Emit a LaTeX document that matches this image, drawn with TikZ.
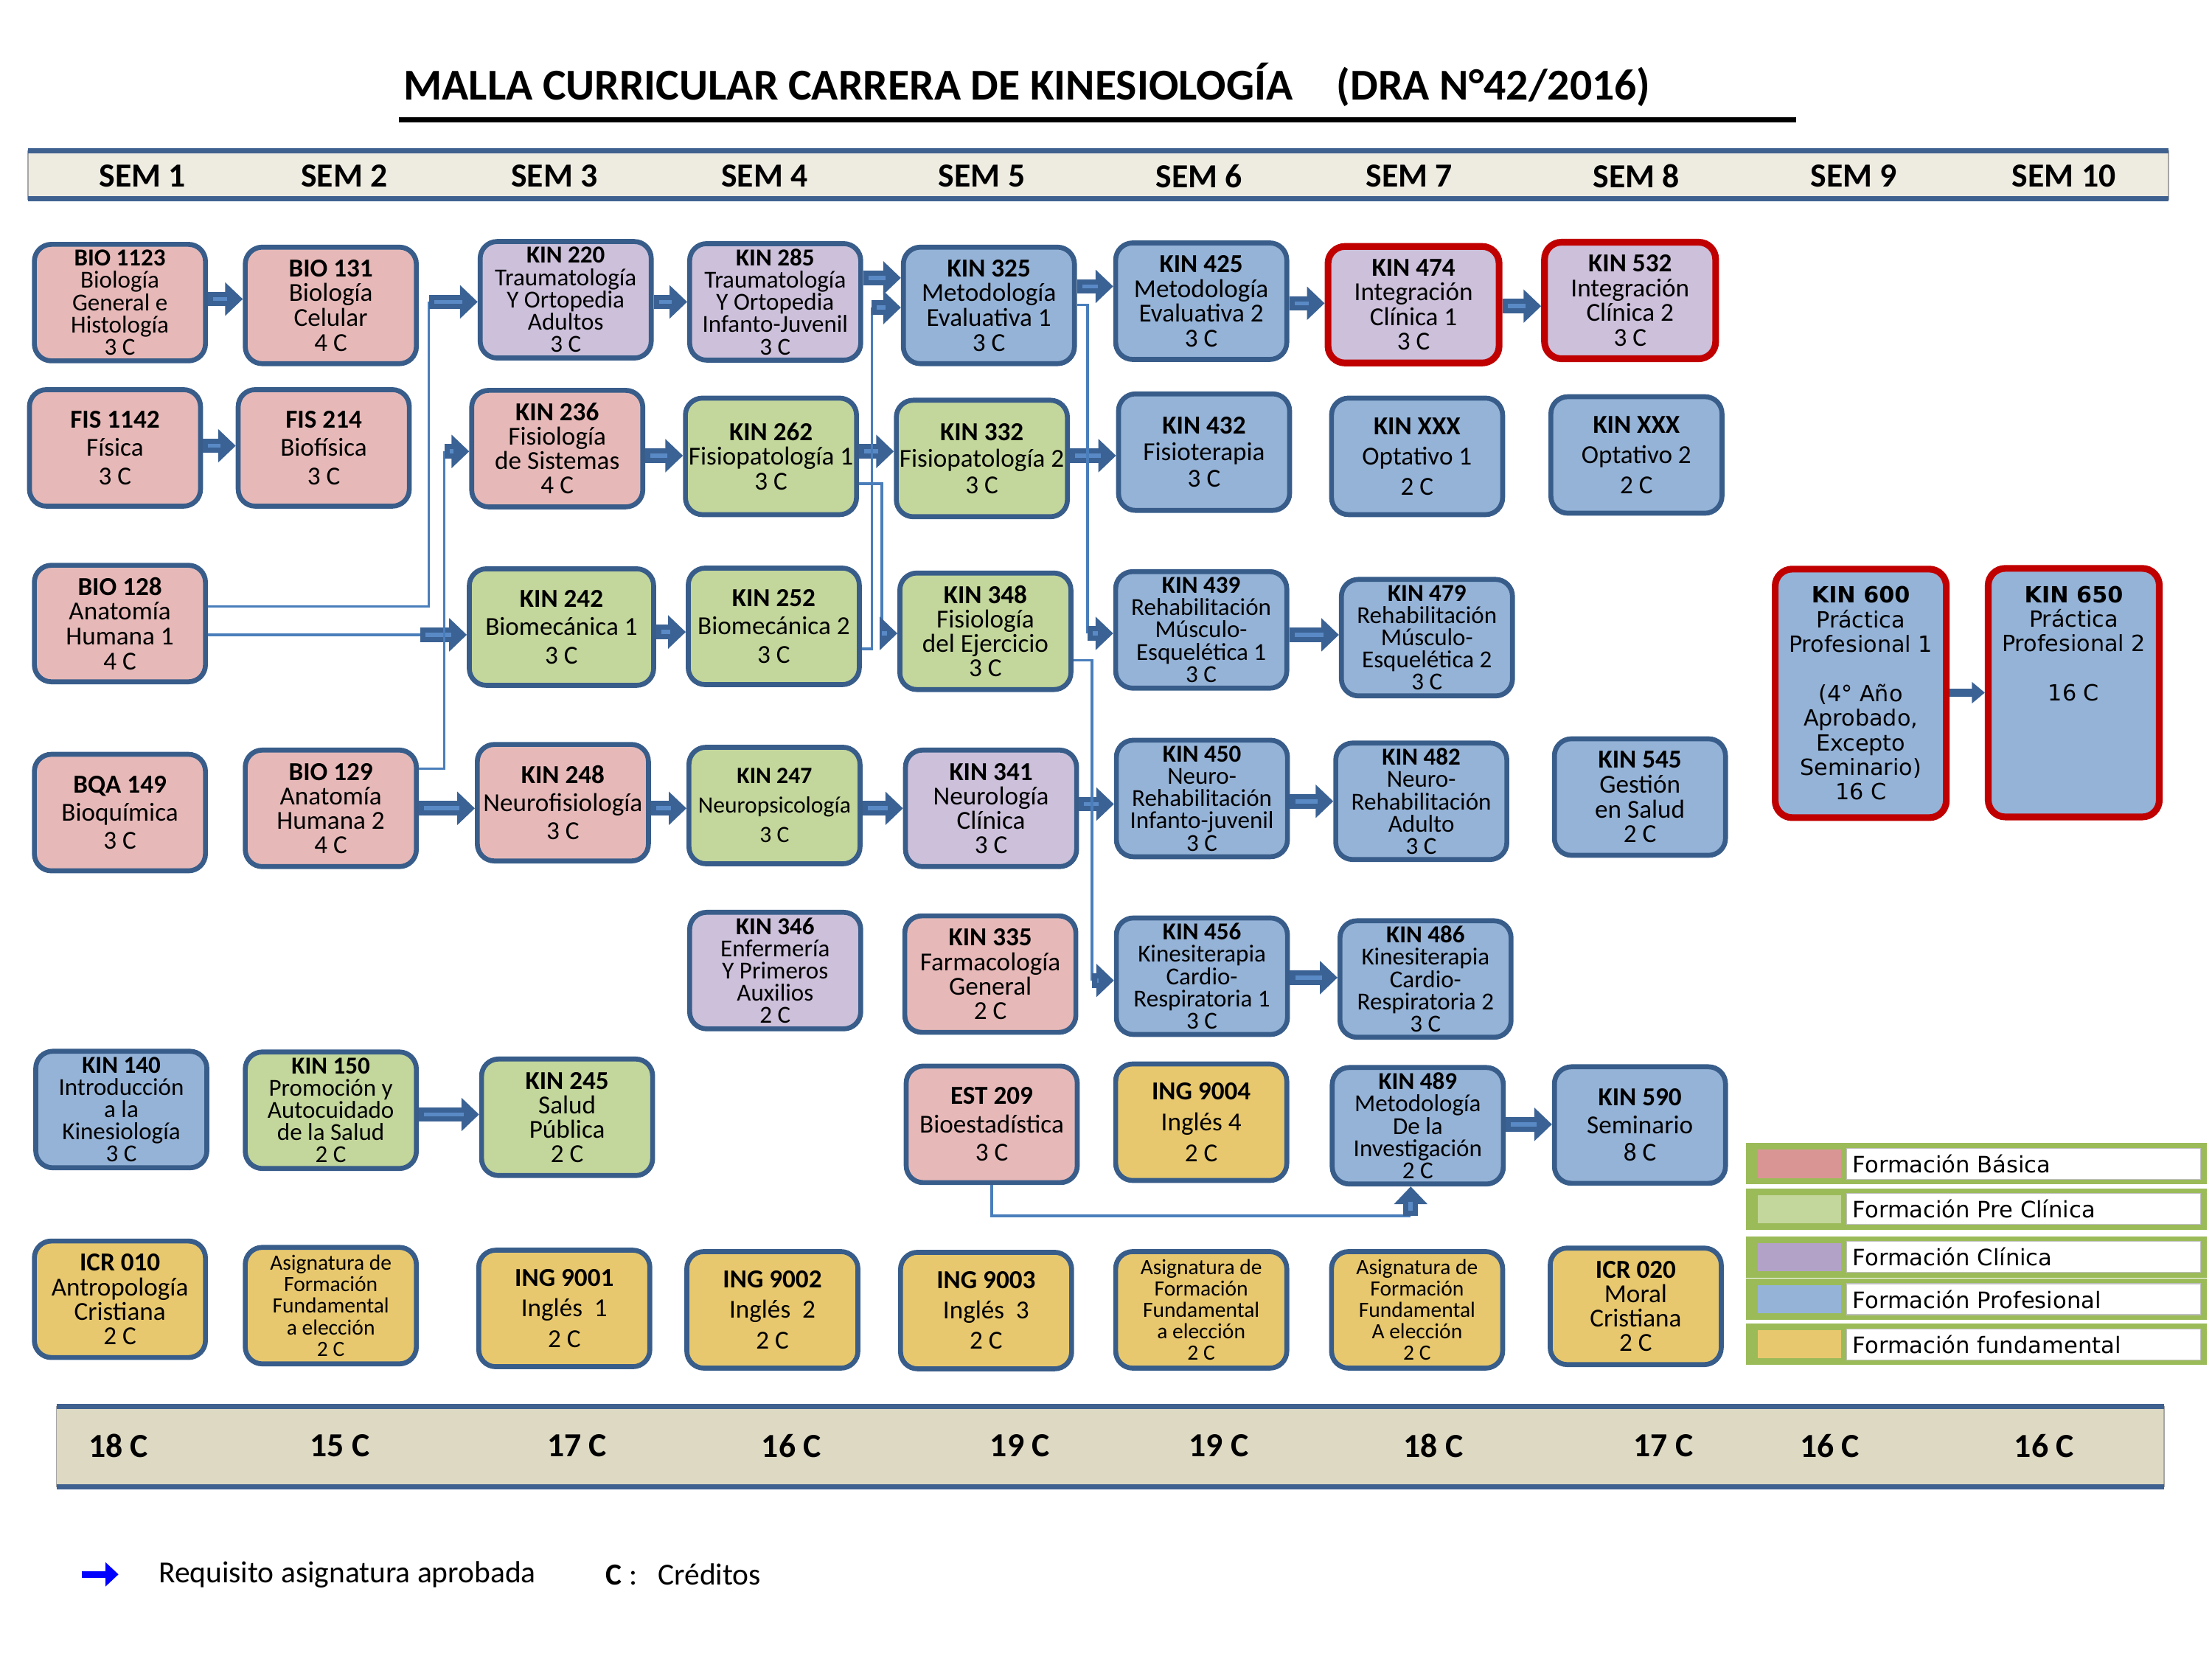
\documentclass[tikz,border=0pt]{standalone}
\usepackage{fontspec}
\setmainfont{Carlito}
\newfontfamily\verdfont{DejaVu Sans}
\usetikzlibrary{arrows.meta}
\lineskiplimit=-20pt
\definecolor{boxline}{HTML}{385D8A}
\definecolor{corered}{HTML}{C00000}
\definecolor{pinkc}{HTML}{E6B9B8}
\definecolor{greenc}{HTML}{C3D69B}
\definecolor{lilac}{HTML}{CCC0DA}
\definecolor{bluec}{HTML}{95B3D7}
\definecolor{goldc}{HTML}{E8C86E}
\definecolor{arrowdark}{HTML}{3B6294}
\definecolor{arrowlight}{HTML}{5A8AC6}
\definecolor{wireblue}{HTML}{4A7EBB}
\definecolor{barline}{HTML}{3F6190}
\definecolor{semfill}{HTML}{EEECE1}
\definecolor{credfill}{HTML}{DDD9C3}
\definecolor{legborder}{HTML}{9BBB59}
\definecolor{legA}{HTML}{D99594}
\definecolor{legB}{HTML}{C3D69B}
\definecolor{legC}{HTML}{B3A2C7}
\definecolor{legD}{HTML}{95B3D7}
\definecolor{legE}{HTML}{E8C86E}
\tikzset{
  course/.style={draw=boxline, line width=1.9pt, fill=#1, rounded corners=2.3mm,
    minimum width=23.2mm, minimum height=15.8mm, inner sep=0pt, align=center,
    font=\fontsize{10}{9.5}\selectfont},
  lsp/.style={font=\fontsize{10}{#1}\selectfont},
  five/.style={font=\fontsize{9.4}{8.6}\selectfont},
  afe/.style={font=\fontsize{8.4}{8.3}\selectfont},
  core/.style={draw=corered, line width=2.6pt},
  req/.style={draw=arrowdark, line width=5.6pt, -{Triangle[length=6.8pt,width=12.5pt]},
    postaction={draw=arrowlight, line width=1.6pt, -, shorten >=6pt, shorten <=2pt}},
  reqs/.style={draw=arrowdark, line width=3.3pt, -{Triangle[length=5pt,width=8pt]}},
  wire/.style={draw=wireblue, line width=1pt},
  semtxt/.style={font=\bfseries\fontsize{13}{15}\selectfont},
  legrow/.style={fill=legborder, minimum width=62.4mm, minimum height=5.6mm, inner sep=0pt},
  legtext/.style={font=\verdfont\fontsize{8.7}{10}\selectfont, anchor=west, inner sep=0pt},
}
\begin{document}
\begin{tikzpicture}[x=0.1913mm, y=-0.1913mm]
\useasboundingbox (0,0) rectangle (1568,1176);

\node[font=\bfseries\fontsize{17}{20}\selectfont] (title) at (728,60)
  {MALLA CURRICULAR CARRERA DE KINESIOLOGÍA\quad (DRA N°42/2016)};
\draw[line width=1.8pt] (283,85) -- (1273,85);

\filldraw[fill=semfill, draw=black!35, line width=0.5pt] (20,107) rectangle (1537,141);
\draw[barline, line width=2pt] (20,107) -- (1537,107) (20,141) -- (1537,141);
\foreach \x/\s in {101/1, 244/2, 393/3, 542/4, 696/5, 850/6, 999/7, 1160/8, 1314/9, 1463/10}
  \node[semtxt] (sem\s) at (\x,125) {SEM \s};

\filldraw[fill=credfill, draw=black!35, line width=0.5pt] (40,997) rectangle (1534,1054);
\draw[barline, line width=2pt] (40,997) -- (1534,997) (40,1054) -- (1534,1054);
\foreach \x/\c [count=\i] in {84/18, 241/15, 409/17, 561/16, 723/19, 864/19, 1016/18, 1179/17, 1297/16, 1449/16}
  \node[semtxt] (cred\i) at (\x,1025) {\c\ C};

% semestre 1 y 2
\node[course=pinkc, five] (bio1123) at (85,214.5) {\textbf{BIO 1123}\\Biología\\General e\\Histología\\3 C};
\node[course=pinkc, lsp=9.6pt] (bio131) at (234.5,216.5) {\textbf{BIO 131}\\Biología\\Celular\\4 C};
\node[course=pinkc, lsp=10.9pt] (fis1142) at (81.5,317.5) {\textbf{FIS 1142}\\Física\\3 C};
\node[course=pinkc, lsp=10.9pt] (fis214) at (229.5,317.5) {\textbf{FIS 214}\\Biofísica\\3 C};
\node[course=pinkc, lsp=9.6pt] (bio128) at (85,442) {\textbf{BIO 128}\\Anatomía\\Humana 1\\4 C};
\node[course=pinkc, lsp=10.9pt] (bqa149) at (85,576) {\textbf{BQA 149}\\Bioquímica\\3 C};
\node[course=pinkc, lsp=9.4pt] (bio129) at (234.5,573) {\textbf{BIO 129}\\Anatomía\\Humana 2\\4 C};
\node[course=bluec, five] (kin140) at (86,786.5) {\textbf{KIN 140}\\Introducción\\a la\\Kinesiología\\3 C};
\node[course=greenc, five] (kin150) at (234.5,787) {\textbf{KIN 150}\\Promoción y\\Autocuidado\\de la Salud\\2 C};
\node[course=goldc, lsp=9.4pt] (icr010) at (85,921) {\textbf{ICR 010}\\Antropología\\Cristiana\\2 C};
\node[course=goldc, afe] (afe1) at (234.5,925.5) {Asignatura de\\Formación\\Fundamental\\a elección\\2 C};

% semestre 3 y 4
\node[course=lilac, five] (kin220) at (401,212.5) {\textbf{KIN 220}\\Traumatología\\Y Ortopedia\\Adultos\\3 C};
\node[course=lilac, five] (kin285) at (549.5,214) {\textbf{KIN 285}\\Traumatología\\Y Ortopedia\\Infanto-Juvenil\\3 C};
\node[course=pinkc, lsp=9.4pt] (kin236) at (395,318) {\textbf{KIN 236}\\Fisiología\\de Sistemas\\4 C};
\node[course=greenc, lsp=9.5pt] (kin262) at (546.5,323.5) {\textbf{KIN 262}\\Fisiopatología 1\\3 C};
\node[course=greenc, lsp=10.9pt, minimum width=25mm] (kin242) at (398,444.5) {\textbf{KIN 242}\\Biomecánica 1\\3 C};
\node[course=greenc, lsp=10.9pt] (kin252) at (548.5,444) {\textbf{KIN 252}\\Biomecánica 2\\3 C};
\node[course=pinkc, lsp=10.9pt] (kin248) at (399,569) {\textbf{KIN 248}\\Neurofisiología\\3 C};
\node[course=greenc, font=\fontsize{9}{11.4}\selectfont] (kin247) at (549,571) {\textbf{KIN 247}\\Neuropsicología\\3 C};
\node[course=lilac, five] (kin346) at (549.5,688) {\textbf{KIN 346}\\Enfermería\\Y Primeros\\Auxilios\\2 C};
\node[course=greenc, lsp=9.4pt] (kin245) at (402,792) {\textbf{KIN 245}\\Salud\\Pública\\2 C};
\node[course=goldc, lsp=11.7pt] (ing9001) at (400,927.5) {\textbf{ING 9001}\\Inglés~~1\\2 C};
\node[course=goldc, lsp=11.7pt] (ing9002) at (547.5,928.5) {\textbf{ING 9002}\\Inglés~~2\\2 C};

% semestre 5 y 6
\node[course=bluec, lsp=9.6pt] (kin325) at (701,216.5) {\textbf{KIN 325}\\Metodología\\Evaluativa 1\\3 C};
\node[course=bluec, lsp=9.6pt] (kin425) at (851.5,213.5) {\textbf{KIN 425}\\Metodología\\Evaluativa 2\\3 C};
\node[course=greenc, lsp=10.3pt] (kin332) at (696,325) {\textbf{KIN 332}\\Fisiopatología 2\\3 C};
\node[course=bluec, lsp=10.3pt] (kin432) at (853.5,320.5) {\textbf{KIN 432}\\Fisioterapia\\3 C};
\node[course=greenc, lsp=9.4pt] (kin348) at (698.5,447.5) {\textbf{KIN 348}\\Fisiología\\del Ejercicio\\3 C};
\node[course=bluec, five] (kin439) at (851.5,446.5) {\textbf{KIN 439}\\Rehabilitación\\Músculo-\\Esquelética 1\\3 C};
\node[course=lilac, lsp=9.4pt] (kin341) at (702.5,573) {\textbf{KIN 341}\\Neurología\\Clínica\\3 C};
\node[course=bluec, five] (kin450) at (852,566) {\textbf{KIN 450}\\Neuro-\\Rehabilitación\\Infanto-juvenil\\3 C};
\node[course=pinkc, lsp=9.4pt] (kin335) at (702,690.5) {\textbf{KIN 335}\\Farmacología\\General\\2 C};
\node[course=bluec, five] (kin456) at (852,692) {\textbf{KIN 456}\\Kinesiterapia\\Cardio-\\Respiratoria 1\\3 C};
\node[course=pinkc, lsp=10.9pt] (est209) at (703,797) {\textbf{EST 209}\\Bioestadística\\3 C};
\node[course=goldc, lsp=12pt] (ing9004) at (851.5,795.5) {\textbf{ING 9004}\\Inglés 4\\2 C};
\node[course=goldc, lsp=11.7pt] (ing9003) at (699,929) {\textbf{ING 9003}\\Inglés~~3\\2 C};
\node[course=goldc, afe] (afe2) at (851.5,928.5) {Asignatura de\\Formación\\Fundamental\\a elección\\2 C};

% semestre 7 y 8
\node[course=lilac, core, lsp=9.5pt] (kin474) at (1002,216) {\textbf{KIN 474}\\Integración\\Clínica 1\\3 C};
\node[course=lilac, core, lsp=9.5pt] (kin532) at (1155.5,213) {\textbf{KIN 532}\\Integración\\Clínica 2\\3 C};
\node[course=bluec, lsp=11.7pt] (opt1) at (1004.5,323.5) {\textbf{KIN XXX}\\Optativo 1\\2 C};
\node[course=bluec, lsp=11.7pt] (opt2) at (1160,322.5) {\textbf{KIN XXX}\\Optativo 2\\2 C};
\node[course=bluec, five] (kin479) at (1011.5,452) {\textbf{KIN 479}\\Rehabilitación\\Músculo-\\Esquelética 2\\3 C};
\node[course=bluec, five] (kin482) at (1007.5,568) {\textbf{KIN 482}\\Neuro-\\Rehabilitación\\Adulto\\3 C};
\node[course=bluec, lsp=9.6pt] (kin545) at (1162.5,565) {\textbf{KIN 545}\\Gestión\\en Salud\\2 C};
\node[course=bluec, five] (kin486) at (1010.5,694) {\textbf{KIN 486}\\Kinesiterapia\\Cardio-\\Respiratoria 2\\3 C};
\node[course=bluec, five] (kin489) at (1005,798) {\textbf{KIN 489}\\Metodología\\De la\\Investigación\\2 C};
\node[course=bluec, lsp=10.6pt] (kin590) at (1162.5,797.5) {\textbf{KIN 590}\\Seminario\\8 C};
\node[course=goldc, afe] (afe3) at (1004.5,928.5) {Asignatura de\\Formación\\Fundamental\\A elección\\2 C};
\node[course=goldc, lsp=9.4pt] (icr020) at (1159.5,926) {\textbf{ICR 020}\\Moral\\Cristiana\\2 C};

% semestre 9 y 10
\node[course=bluec, core, minimum height=33.7mm, font=\verdfont\fontsize{8.6}{9.5}\selectfont] (kin600) at (1319,491.5)
  {\textbf{KIN 600}\\Práctica\\Profesional 1\\\mbox{}\\(4° Año\\Aprobado,\\Excepto\\Seminario)\\16 C};
\node[course=bluec, core, minimum height=33.7mm, font=\verdfont\fontsize{8.6}{9.5}\selectfont] (kin650) at (1470,491)
  {\textbf{KIN 650}\\Práctica\\Profesional 2\\\mbox{}\\16 C\\\mbox{}\\\mbox{}\\\mbox{}\\\mbox{}};

\foreach \a/\b/\y in {bio1123/bio131/212, fis1142/fis214/316, kin220/kin285/214, kin285/kin325/197,
    kin325/kin425/203, kin425/kin474/215, kin474/kin532/217, kin236/kin262/323, kin262/kin332/320,
    kin332/kin432/323, kin242/kin252/448, kin439/kin479/450, bio129/kin248/573, kin248/kin247/573,
    kin247/kin341/573, kin341/kin450/570, kin450/kin482/568, kin456/kin486/693, kin150/kin245/790,
    kin489/kin590/797}
  \draw[req] (\a.east |- 0,\y) -- (\b.west |- 0,\y);
\draw[reqs] (kin600.east |- 0,491) -- (kin650.west |- 0,491);

\coordinate (j1) at (304,430);
\coordinate (j2) at (298,450);
\coordinate (j3) at (315,545);
\coordinate (j4) at (618,460);
\coordinate (j5) at (625,343);
\coordinate (j6) at (771,216);
\coordinate (j7) at (774,468);
\coordinate (j8) at (1000,862);
\draw[wire] (bio128.east |- j1) -- (j1) -- (j1 |- 0,214);
\draw[req] (j1 |- 0,214) -- (kin220.west |- 0,214);
\draw[wire] (bio128.east |- j2) -- (j2);
\draw[req] (j2) -- (kin242.west |- j2);
\draw[wire] (bio129.east |- j3) -- (j3) -- (j3 |- 0,320);
\draw[req] (j3 |- 0,320) -- (kin236.west |- 0,320);
\draw[wire] (kin252.east |- j4) -- (j4) -- (j4 |- 0,218);
\draw[req] (j4 |- 0,218) -- (kin325.west |- 0,218);
\draw[wire] (kin262.east |- j5) -- (j5) -- (j5 |- 0,449);
\draw[req] (j5 |- 0,449) -- (kin348.west |- 0,449);
\draw[wire] (kin325.east |- j6) -- (j6) -- (j6 |- 0,449);
\draw[req] (j6 |- 0,449) -- (kin439.west |- 0,449);
\draw[wire] (kin348.east |- j7) -- (j7) -- (j7 |- 0,695);
\draw[req] (j7 |- 0,695) -- (kin456.west |- 0,695);
\draw[wire] (est209.south) -- (est209.south |- j8) -- (j8);
\draw[req] (j8) -- (j8 |- kin489.south);

% leyenda
\foreach \y/\c/\t [count=\i] in {825/legA/Formación Básica, 857/legB/Formación Pre Clínica,
    891/legC/Formación Clínica, 921/legD/Formación Profesional, 953/legE/Formación fundamental}{
  \node[legrow] (leg\i) at (1401,\y) {};
  \fill[\c] (1246,\y-10) rectangle (1305,\y+10);
  \filldraw[fill=white, draw=black!25, line width=0.4pt] (1309,\y-11) rectangle (1560,\y+11);
  \node[legtext] (legt\i) at (1313,\y) {\t};
}

\coordinate (la) at (58,1116);
\coordinate (lb) at (84,1116);
\draw[draw=blue, line width=2.6pt, -{Triangle[length=5pt,width=9pt]}] (la) -- (lb);
\node[anchor=west, font=\fontsize{11.8}{14}\selectfont] (reqtxt) at (106,1116) {Requisito asignatura aprobada};
\node[anchor=west, font=\fontsize{11.8}{14}\selectfont] (credtxt) at (423,1116) {\textbf{C} :\ \ \ Créditos};
\end{tikzpicture}
\end{document}
